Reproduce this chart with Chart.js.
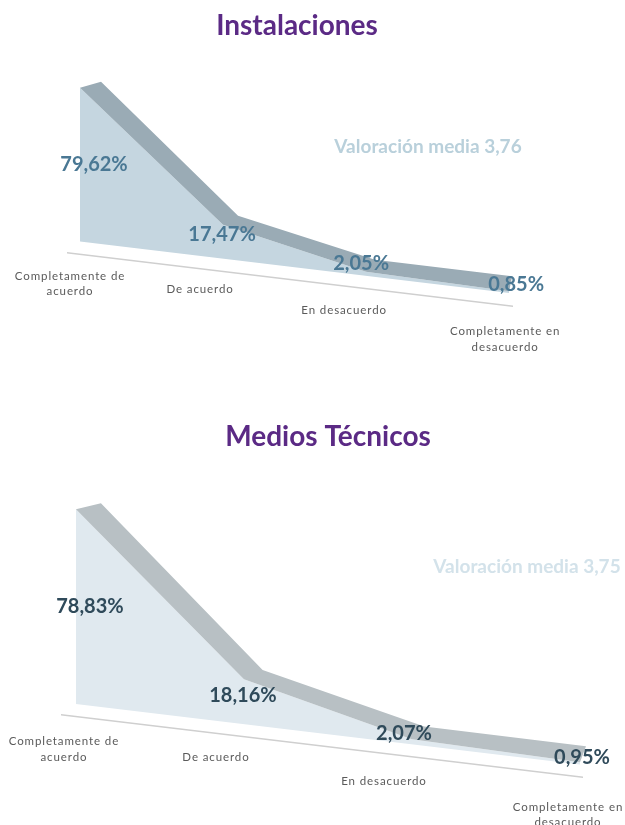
<!DOCTYPE html>
<html><head><meta charset="utf-8">
<script src="https://cdn.jsdelivr.net/npm/chart.js@4.4.1/dist/chart.umd.min.js"></script>
<style>
html,body{margin:0;padding:0;background:#fff;width:625px;height:825px;overflow:hidden}
canvas{position:absolute;left:0;display:block}
#c1{top:0}
#c2{top:410px}
</style></head><body>
<canvas id="c1" width="625" height="410"></canvas>
<canvas id="c2" width="625" height="415"></canvas>
<script>
// ---- data ----
const categories = ["Completamente de acuerdo", "De acuerdo", "En desacuerdo", "Completamente en desacuerdo"];
const tickLabels = [["Completamente de", "acuerdo"], ["De acuerdo"], ["En desacuerdo"], ["Completamente en", "desacuerdo"]];
const chartTitles = ["Instalaciones", "Medios Técnicos"];
const instalacionesValues = [79.62, 17.47, 2.05, 0.85];
const mediosTecnicosValues = [78.83, 18.16, 2.07, 0.95];
const instalacionesMedia = 3.76;
const mediosTecnicosMedia = 3.75;

// ---- styles ----
const panels = [
  { canvas: 'c1', title: chartTitles[0], values: instalacionesValues, media: instalacionesMedia,
    areaColor: '#c5d6e0', ribbonColor: '#9aabb5', labelColor: '#4a7894', mediaColor: '#b9d0db',
    shear: 0.12, yMin: -6.5, yMax: 85, xMin: -0.084, xMax: 3.02,
    pad: { left: 68, right: 99 }, sideW: 14, titlePad: { top: 9.2, bottom: 33.2 }, axisHeight: 157.5,
    depthL: [21, -6], depthR: [3, -15],
    valOffsets: [[14, 'mid'], [-1, 10], [-5, -8], [7, -7]],
    catOffsets: [[-10, 22], [-23, 18], [-22, 22], [-4, 26]],
    mediaPos: [428, 147] },
  { canvas: 'c2', title: chartTitles[1], values: mediosTecnicosValues, media: mediosTecnicosMedia,
    areaColor: '#e0e9ef', ribbonColor: '#b8c0c4', labelColor: '#2f4a5a', mediaColor: '#d3e2ea',
    shear: 0.12, yMin: -5.1, yMax: 85, xMin: -0.083, xMax: 3.012,
    pad: { left: 62, right: 31 }, sideW: 12, titlePad: { top: 10.2, bottom: 38.6 }, axisHeight: 110,
    depthL: [25, -6], depthR: [6, -16],
    valOffsets: [[14, 'mid'], [-1, 16], [-8, -6], [2, -5]],
    catOffsets: [[-12, 25], [-28, 20], [-28, 24], [-12, 30]],
    mediaPos: [527, 157] }
];

const fmtPct = v => v.toFixed(2).replace('.', ',') + '%';

function makePlugin(st) {
  return {
    id: 'perspective_' + st.canvas,
    beforeDatasetsDraw(chart) {
      const ctx = chart.ctx, x0 = chart.chartArea.left;
      ctx.save();
      ctx.transform(1, st.shear, 0, 1, 0, -st.shear * x0);
    },
    afterDraw(chart) {
      const ctx = chart.ctx;
      ctx.restore();
      const xs = chart.scales.x, ys = chart.scales.y, ca = chart.chartArea;
      const sh = (x, y) => [x, y + st.shear * (x - ca.left)];
      const n = st.values.length;
      const front = st.values.map((v, i) => sh(xs.getPixelForValue(i), ys.getPixelForValue(v)));
      const bases = st.values.map((v, i) => sh(xs.getPixelForValue(i), ys.getPixelForValue(0)));
      const back = front.map((p, i) => {
        const t = i / (n - 1);
        return [p[0] + st.depthL[0] + (st.depthR[0] - st.depthL[0]) * t,
                p[1] + st.depthL[1] + (st.depthR[1] - st.depthL[1]) * t];
      });
      // ribbon (top face)
      ctx.save();
      ctx.beginPath();
      front.forEach((p, i) => i ? ctx.lineTo(p[0], p[1]) : ctx.moveTo(p[0], p[1]));
      for (let i = n - 1; i >= 0; i--) ctx.lineTo(back[i][0], back[i][1]);
      ctx.closePath();
      ctx.fillStyle = st.ribbonColor;
      ctx.fill();
      // category labels
      ctx.fillStyle = '#5a5a5a';
      ctx.font = '11.5px Lato';
      ctx.letterSpacing = '0.9px';
      ctx.textAlign = 'center';
      ctx.textBaseline = 'middle';
      tickLabels.forEach((lines, i) => {
        const px = xs.getPixelForValue(i);
        const ay = ca.bottom + st.shear * (px - ca.left);
        const o = st.catOffsets[i];
        lines.forEach((ln, j) => ctx.fillText(ln, px + o[0], ay + o[1] + j * 15.5));
      });
      ctx.letterSpacing = '0px';
      // value labels
      ctx.fillStyle = st.labelColor;
      ctx.font = 'bold 20px Lato';
      st.values.forEach((v, i) => {
        const o = st.valOffsets[i];
        const x = front[i][0] + o[0];
        const y = o[1] === 'mid' ? (front[i][1] + bases[i][1]) / 2 : front[i][1] + o[1];
        ctx.fillText(fmtPct(v), x, y);
      });
      // mean rating
      ctx.fillStyle = st.mediaColor;
      ctx.font = 'bold 19px Lato';
      ctx.fillText('Valoración media ' + st.media.toFixed(2).replace('.', ','), st.mediaPos[0], st.mediaPos[1]);
      ctx.restore();
    }
  };
}

panels.forEach(st => {
  new Chart(document.getElementById(st.canvas), {
    type: 'line',
    data: {
      labels: categories,
      datasets: [{
        label: st.title,
        data: st.values.map((v, i) => ({ x: i, y: v })),
        fill: 'origin',
        backgroundColor: st.areaColor,
        borderWidth: 0,
        pointRadius: 0,
        tension: 0,
        clip: false
      }]
    },
    options: {
      responsive: false,
      animation: false,
      events: [],
      layout: { padding: { left: st.pad.left, right: st.pad.right, top: 0, bottom: 0 } },
      plugins: {
        legend: { display: false },
        tooltip: { enabled: false },
        title: {
          display: true, text: st.title, color: '#5b2a85',
          font: { family: 'Lato', size: 28, weight: 'bold', lineHeight: 1.2 },
          padding: st.titlePad
        }
      },
      scales: {
        x: {
          type: 'linear', min: st.xMin, max: st.xMax,
          grid: { display: false },
          ticks: { display: false },
          border: { display: true, color: '#cfcfcf', width: 1.5, z: 1 },
          afterBuildTicks(s) { s.ticks = [0, 1, 2, 3].map(v => ({ value: v })); },
          afterFit(s) { s.height = st.axisHeight; }
        },
        y: {
          type: 'linear', position: 'right', min: st.yMin, max: st.yMax, display: true,
          grid: { display: false }, ticks: { display: false }, border: { display: false },
          afterFit(s) { s.width = st.sideW; }
        }
      }
    },
    plugins: [makePlugin(st)]
  });
});
</script>
</body></html>
